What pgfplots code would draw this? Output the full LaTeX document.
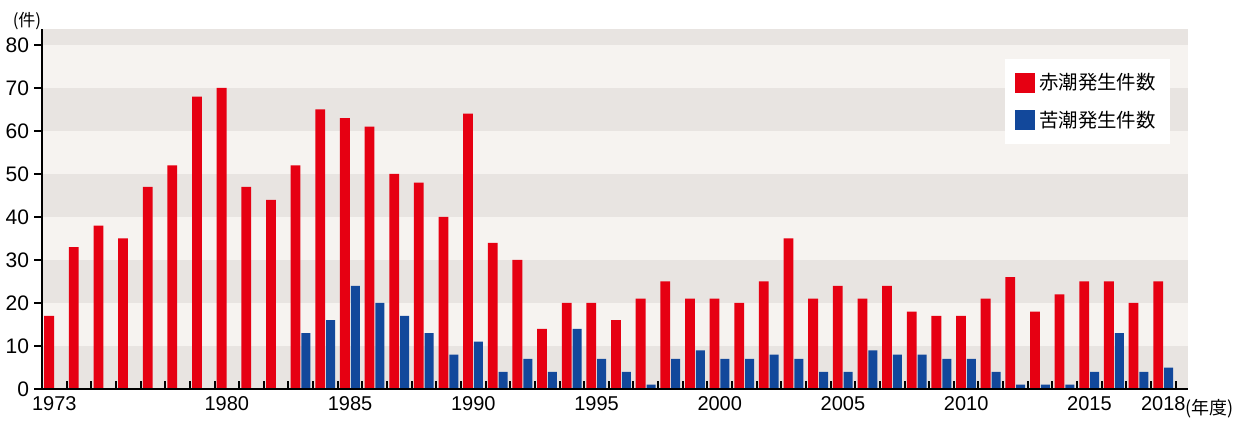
\documentclass[border=0pt]{standalone}
\usepackage{fontspec}
\setmainfont{Liberation Sans}
\newfontfamily\cjk{Noto Sans CJK JP}
\usepackage{pgfplots}
\usepackage{pgfplotstable}
\pgfplotsset{compat=1.18}
\usetikzlibrary{calc}

\definecolor{akashio}{RGB}{230,0,18}
\definecolor{nigashio}{RGB}{18,72,155}
\definecolor{banddark}{RGB}{232,228,225}
\definecolor{bandlight}{RGB}{246,243,240}

% year, red tide (akashio) count, blue tide (nigashio) count
\pgfplotstableread{
year red blue
1973 17 0
1974 33 0
1975 38 0
1976 35 0
1977 47 0
1978 52 0
1979 68 0
1980 70 0
1981 47 0
1982 44 0
1983 52 13
1984 65 16
1985 63 24
1986 61 20
1987 50 17
1988 48 13
1989 40 8
1990 64 11
1991 34 4
1992 30 7
1993 14 4
1994 20 14
1995 20 7
1996 16 4
1997 21 1
1998 25 7
1999 21 9
2000 21 7
2001 20 7
2002 25 8
2003 35 7
2004 21 4
2005 24 4
2006 21 9
2007 24 8
2008 18 8
2009 17 7
2010 17 7
2011 21 4
2012 26 1
2013 18 1
2014 22 1
2015 25 4
2016 25 13
2017 20 4
2018 25 5
}\counts

\begin{document}
\begin{tikzpicture}
\begin{axis}[
    name=ax,
    scale only axis,
    width=573pt, height=180pt,
    xmin=1972.5, xmax=2019,
    ymin=0, ymax=83.7,
    axis x line*=bottom, axis y line*=left,
    axis line style={line width=1.1pt, -},
    axis background/.style={fill=bandlight},
    axis on top,
    % small tick marks between the year groups
    xtick={1973.5,1974.5,...,2018.9},
    xticklabels={},
    xtick align=inside,
    major x tick style={line width=1pt, black},
    % year labels, without tick marks
    extra x ticks={1973,1980,1985,1990,1995,2000,2005,2010,2015,2018},
    extra x tick labels={1973,1980,1985,1990,1995,2000,2005,2010,2015,2018},
    extra x tick style={major tick length=0pt},
    x tick label style={font=\fontsize{10}{12}\selectfont},
    ytick={0,10,...,80},
    y tick label style={font=\fontsize{10.5}{12}\selectfont, xshift=1pt},
    ytick align=outside,
    major tick length=4pt,
    major y tick style={line width=0.8pt, black},
    /pgf/number format/assume math mode=true,
    legend style={at={(rel axis cs:1,1)}, anchor=north east,
        xshift=-9pt, yshift=-15pt, draw=none, fill=white,
        font=\cjk\fontsize{9.7}{12}\selectfont,
        row sep=5pt, inner xsep=5pt, inner ysep=5pt},
    legend cell align=left,
    legend image code/.code={\fill[#1] (0pt,-5pt) rectangle (10pt,5pt);},
]
% alternating background bands
\fill[banddark] (axis cs:1972.5,0) rectangle (axis cs:2019,10);
\fill[banddark] (axis cs:1972.5,20) rectangle (axis cs:2019,30);
\fill[banddark] (axis cs:1972.5,40) rectangle (axis cs:2019,50);
\fill[banddark] (axis cs:1972.5,60) rectangle (axis cs:2019,70);
\fill[banddark] (axis cs:1972.5,80) rectangle (axis cs:2019,83.7);

\addplot[ybar, bar width=4.9pt, bar shift=-2.6pt, fill=akashio, draw=none]
    table[x=year, y=red] {\counts};
\addplot[ybar, bar width=4.5pt, bar shift=2.6pt, fill=nigashio, draw=none]
    table[x=year, y=blue] {\counts};

\legend{赤潮発生件数, 苦潮発生件数}
\end{axis}

\node[font=\cjk\fontsize{8.5}{10}\selectfont] at ($(ax.north west)+(-7.5pt,4pt)$) {(件)};
\node[font=\cjk\fontsize{9}{10}\selectfont, anchor=west, inner sep=0pt] at ($(ax.south east)+(-1.5pt,-10pt)$) {(年度)};

\pgfresetboundingbox
\useasboundingbox ($(ax.south west)+(-21pt,-16pt)$) rectangle ($(ax.north east)+(28.5pt,14.5pt)$);
\end{tikzpicture}
\end{document}
